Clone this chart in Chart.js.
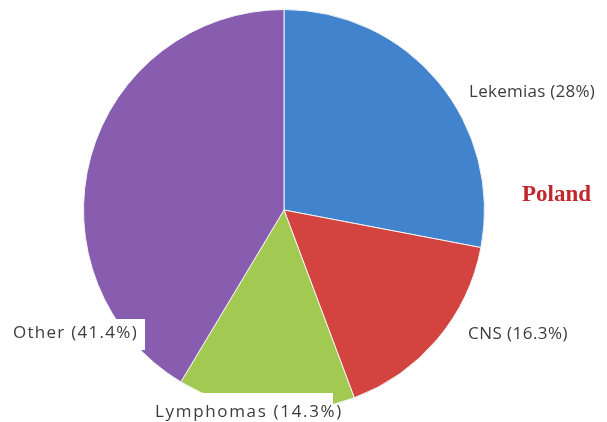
<!DOCTYPE html>
<html>
<head>
<meta charset="utf-8">
<script src="https://cdn.jsdelivr.net/npm/chart.js@4"></script>
<style>
html,body{margin:0;padding:0;background:#fff;}
#wrap{width:607px;height:422px;position:relative;}
</style>
</head>
<body>
<div id="wrap"><canvas id="c" width="607" height="422"></canvas></div>
<script>
const categories = ["Lekemias", "CNS", "Lymphomas", "Other"];
const values = [28, 16.3, 14.3, 41.4];
const labelTexts = ["Lekemias (28%)", "CNS (16.3%)", "Lymphomas (14.3%)", "Other (41.4%)"];
const colors = ["#4283cd", "#d3433f", "#a2c951", "#885db0"];
const titleText = "Poland";

// label anchor (left x, middle y), target width, optional white box
const labelPos = [
  {x: 469, y: 92, w: 126, box: false},
  {x: 468, y: 334, w: 100, box: false},
  {x: 155, y: 412, w: 188, box: true, bx: 150, by: 393, bw: 183, bh: 29},
  {x: 13, y: 333, w: 125, box: true, bx: 0, by: 319, bw: 145, bh: 31}
];

const labelPlugin = {
  id: 'labelPlugin',
  afterDatasetsDraw(chart) {
    const ctx = chart.ctx;
    ctx.save();
    ctx.font = '17px "Open Sans", "DejaVu Sans", sans-serif';
    ctx.textBaseline = 'middle';
    ctx.textAlign = 'left';
    labelTexts.forEach((t, i) => {
      const p = labelPos[i];
      if (p.box) {
        ctx.fillStyle = '#ffffff';
        ctx.fillRect(p.bx, p.by, p.bw, p.bh);
      }
      ctx.letterSpacing = '0px';
      const mw = ctx.measureText(t).width;
      const ls = (p.w - mw) / t.length;
      ctx.fillStyle = '#3c3c3c';
      if (ls > 0) {
        ctx.letterSpacing = ls.toFixed(2) + 'px';
        ctx.fillText(t, p.x, p.y);
      } else {
        ctx.fillText(t, p.x, p.y, p.w);
      }
    });
    ctx.letterSpacing = '0px';
    ctx.font = 'bold 23px "Liberation Serif", "DejaVu Serif", serif';
    ctx.fillStyle = '#c0282d';
    ctx.fillText(titleText, 522, 195);
    ctx.restore();
  }
};

new Chart(document.getElementById('c'), {
  type: 'pie',
  data: {
    labels: categories,
    datasets: [{
      data: values,
      backgroundColor: colors,
      borderColor: '#f4f4f4',
      borderWidth: 1
    }]
  },
  options: {
    responsive: false,
    animation: false,
    layout: { padding: { left: 83, right: 122, top: 9, bottom: 11 } },
    plugins: {
      legend: { display: false },
      tooltip: { enabled: false },
      title: { display: false }
    }
  },
  plugins: [labelPlugin]
});
</script>
</body>
</html>
